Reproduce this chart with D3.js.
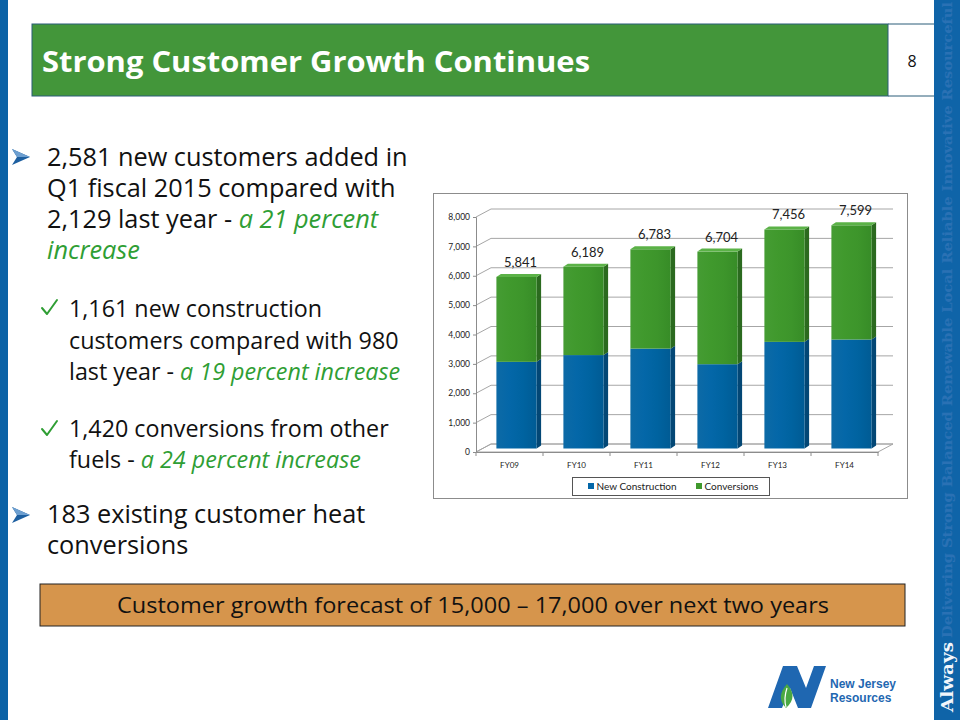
<!DOCTYPE html>
<html lang="en">
<head>
<meta charset="UTF-8">
<script src="https://d3js.org/d3.v7.min.js"></script>
<title>Strong Customer Growth Continues</title>
<style>
  body { margin: 0; background: #fff; }
  svg { display: block; }
</style>
</head>
<body>
<script>
// chart data
const categories = ["FY09", "FY10", "FY11", "FY12", "FY13", "FY14"];
const newConstruction = [2950, 3180, 3400, 2870, 3630, 3710];
const conversions = [2891, 3009, 3383, 3834, 3826, 3889];
const totals = [5841, 6189, 6783, 6704, 7456, 7599];
const yTicks = [0, 1000, 2000, 3000, 4000, 5000, 6000, 7000, 8000];
const seriesNames = ["New Construction", "Conversions"];

const bodyFont = "'Open Sans', Lato, sans-serif";
const chartFont = "Lato, 'Open Sans', sans-serif";
const green = "#2f9e34";

const svg = d3.select("body").append("svg")
    .attr("width", 960)
    .attr("height", 720);

const defs = svg.append("defs");

// ---- slide frame ----
svg.append("rect").attr("x", 0).attr("y", 0).attr("width", 8).attr("height", 720).attr("fill", "#0b62a6");
svg.append("rect").attr("x", 934).attr("y", 0).attr("width", 26).attr("height", 720).attr("fill", "#0f64a8");

const fade = defs.append("linearGradient").attr("id", "fade")
    .attr("gradientUnits", "userSpaceOnUse")
    .attr("x1", 0).attr("y1", 720).attr("x2", 0).attr("y2", 0);
fade.append("stop").attr("offset", "0%").attr("stop-color", "#cddbeb");
fade.append("stop").attr("offset", "50%").attr("stop-color", "#93b2d4");
fade.append("stop").attr("offset", "100%").attr("stop-color", "#2a71b4");

svg.append("text")
    .attr("transform", "translate(953,712) rotate(-90)")
    .attr("font-family", "'DejaVu Serif', serif").attr("font-weight", "bold")
    .attr("font-size", 17).attr("fill", "#f2f6fb")
    .attr("textLength", 70).attr("lengthAdjust", "spacingAndGlyphs")
    .text("Always");
svg.append("text")
    .attr("transform", "translate(952,638) rotate(-90)")
    .attr("font-family", "'DejaVu Serif', serif").attr("font-weight", "bold")
    .attr("font-size", 13).attr("fill", "url(#fade)")
    .attr("textLength", 636).attr("lengthAdjust", "spacingAndGlyphs")
    .text("Delivering Strong Balanced Renewable Local Reliable Innovative Resourceful");

// title bar
svg.append("rect").attr("x", 32).attr("y", 24).attr("width", 856).attr("height", 72)
    .attr("fill", "#43963a").attr("stroke", "#2b5d78").attr("stroke-width", 1);
svg.append("line").attr("x1", 888).attr("x2", 934).attr("y1", 24).attr("y2", 24).attr("stroke", "#2b5d78");
svg.append("line").attr("x1", 888).attr("x2", 934).attr("y1", 96).attr("y2", 96).attr("stroke", "#2b5d78");
svg.append("text").attr("x", 42).attr("y", 72)
    .attr("font-family", bodyFont).attr("font-weight", "bold").attr("font-size", 29)
    .attr("textLength", 548).attr("lengthAdjust", "spacingAndGlyphs")
    .attr("fill", "#fff").text("Strong Customer Growth Continues");
svg.append("text").attr("x", 912).attr("y", 67).attr("text-anchor", "middle")
    .attr("font-family", bodyFont).attr("font-size", 16).attr("fill", "#111").text("8");

// ---- bullet text: one text element per paragraph, one tspan row per line ----
const paragraphs = [
  { x: 47, y: 166, size: 25.3, lead: 31, rows: [
      [["2,581 new customers added in"]],
      [["Q1 fiscal 2015 compared with"]],
      [["2,129 last year - "], ["a 21 percent", true]],
      [["increase", true]] ] },
  { x: 69, y: 317, size: 23.3, lead: 31.5, rows: [
      [["1,161 new construction"]],
      [["customers compared with 980"]],
      [["last year - "], ["a 19 percent increase", true]] ] },
  { x: 69, y: 437, size: 23.3, lead: 31, rows: [
      [["1,420 conversions from other"]],
      [["fuels - "], ["a 24 percent increase", true]] ] },
  { x: 47, y: 523, size: 25.3, lead: 31, rows: [
      [["183 existing customer heat"]],
      [["conversions"]] ] }
];

paragraphs.forEach(p => {
  const t = svg.append("text").attr("x", p.x).attr("y", p.y)
      .attr("font-family", bodyFont).attr("font-size", p.size).attr("fill", "#111");
  p.rows.forEach((row, r) => {
    row.forEach((part, k) => {
      const ts = t.append("tspan")
          .attr("fill", part[1] ? green : "#111")
          .attr("font-style", part[1] ? "italic" : "normal")
          .text(part[0]);
      if (k === 0) ts.attr("x", p.x).attr("y", p.y + r * p.lead);
    });
  });
});

// arrow bullets
function arrowBullet(cx, cy) {
  const g = svg.append("g").attr("transform", `translate(${cx},${cy})`);
  g.append("path").attr("d", "M-9,-8 L9,0 L-9,8 L-4,0 Z").attr("fill", "#1d5fa0");
  g.append("path").attr("d", "M-9,-8 L9,0 L-4,0 Z").attr("fill", "#6d9fd0");
}
arrowBullet(21, 157);
arrowBullet(21, 515);

// check bullets
[315, 436].forEach(y => {
  svg.append("path")
      .attr("d", `M42,${y - 7} L47,${y - 1} L57,${y - 15}`)
      .attr("fill", "none").attr("stroke", green).attr("stroke-width", 2)
      .attr("stroke-linecap", "round").attr("stroke-linejoin", "round");
});

// forecast box
svg.append("rect").attr("x", 40).attr("y", 584).attr("width", 865).attr("height", 42)
    .attr("fill", "#d6954c").attr("stroke", "#222").attr("stroke-width", 1);
svg.append("text").attr("x", 117).attr("y", 613)
    .attr("font-family", bodyFont).attr("font-size", 21).attr("fill", "#111")
    .attr("textLength", 712).attr("lengthAdjust", "spacingAndGlyphs")
    .text("Customer growth forecast of 15,000 \u2013 17,000  over next two years");

// logo
const logo = svg.append("g").attr("transform", "translate(768,666)");
logo.append("path").attr("d", "M0,42 L15,0 L29,0 L38,22 L46,0 L58,0 L43,42 L30,42 L22,22 L14,42 Z")
    .attr("fill", "#1f67b1");
logo.append("path").attr("d", "M18,42 C10,34 12,26 19,18 C26,26 27,34 18,42 Z").attr("fill", "#4aa843");
logo.append("path").attr("d", "M18,41 C16,34 17,28 19,22").attr("stroke", "#fff").attr("stroke-width", 1.2).attr("fill", "none");
logo.append("text").attr("x", 62).attr("y", 22).attr("font-family", "'Liberation Sans', Arial, sans-serif")
    .attr("font-weight", "bold").attr("font-size", 12).attr("fill", "#1f67b1").text("New Jersey");
logo.append("text").attr("x", 62).attr("y", 36).attr("font-family", "'Liberation Sans', Arial, sans-serif")
    .attr("font-weight", "bold").attr("font-size", 12).attr("fill", "#1f67b1").text("Resources");

// ---- chart ----
svg.append("rect").attr("x", 433.5).attr("y", 193.5).attr("width", 474).attr("height", 305)
    .attr("fill", "#fff").attr("stroke", "#8c8c8c").attr("stroke-width", 1);

const x0 = 476, x1 = 878, yBase = 452, yTop = 217;
const dx = 15, dy = -8;

const x = d3.scaleBand().domain(categories).range([x0, x1]).paddingInner(0.4).paddingOuter(0.2);
const y = d3.scaleLinear().domain([0, 8000]).range([yBase, yTop]);

const grid = svg.append("g").attr("stroke", "#a6a6a6").attr("stroke-width", 1).attr("fill", "none");
// floor
grid.append("path")
    .attr("d", `M${x0},${yBase} L${x1},${yBase} L${x1 + dx},${yBase + dy} L${x0 + dx},${yBase + dy} Z`)
    .attr("fill", "#fff");
yTicks.forEach(t => {
  grid.append("line")
      .attr("x1", x0 + dx).attr("x2", x1 + dx)
      .attr("y1", y(t) + dy).attr("y2", y(t) + dy);
  grid.append("line")
      .attr("x1", x0).attr("x2", x0 + dx)
      .attr("y1", y(t)).attr("y2", y(t) + dy);
});

// axes
const yAxis = svg.append("g").attr("transform", `translate(${x0},0)`)
    .call(d3.axisLeft(y).tickValues(yTicks).tickFormat(d3.format(",")).tickSize(3).tickPadding(3));
const xAxis = svg.append("g").attr("transform", `translate(0,${yBase})`)
    .call(d3.axisBottom(x).tickSize(0).tickPadding(10));
[yAxis, xAxis].forEach(a => {
  a.select(".domain").attr("stroke", "#8c8c8c");
  a.selectAll("line").attr("stroke", "#8c8c8c");
  a.selectAll("text").attr("font-family", chartFont).attr("fill", "#222");
});
yAxis.selectAll("text").attr("font-size", 8.5);
xAxis.selectAll("text").attr("font-size", 8);
// category boundary ticks
d3.range(categories.length + 1).forEach(i => {
  const tx = x0 + i * (x1 - x0) / categories.length;
  svg.append("line").attr("x1", tx).attr("x2", tx).attr("y1", yBase).attr("y2", yBase + 4)
      .attr("stroke", "#8c8c8c");
});

// gradients for the bar faces
function faceGradient(id, stops) {
  const g = defs.append("linearGradient").attr("id", id).attr("x1", 0).attr("x2", 1).attr("y1", 0).attr("y2", 0);
  stops.forEach((c, i) => g.append("stop").attr("offset", (i / (stops.length - 1) * 100) + "%").attr("stop-color", c));
}
faceGradient("blueFace", ["#0d6aa6", "#0467a8", "#0063a0", "#005b94"]);
faceGradient("greenFace", ["#459c33", "#40992d", "#3d952b", "#378c27"]);

const styles = [
  { face: "url(#blueFace)", side: "#034775", top: "#1a7cbc" },
  { face: "url(#greenFace)", side: "#2b6a1f", top: "#5bb247" }
];

// bar geometry: front face shifted into the middle of the depth
const fx = 7, fy = -3.5, bdx = 4.5, bdy = -3;
const stacked = categories.map((c, i) => [
  { cat: c, s: 0, lo: 0, hi: newConstruction[i] },
  { cat: c, s: 1, lo: newConstruction[i], hi: newConstruction[i] + conversions[i] }
]).flat();

const bars = svg.append("g");
stacked.forEach(d => {
  const left = x(d.cat) + fx, w = x.bandwidth();
  const yh = y(d.hi) + fy, yl = y(d.lo) + fy;
  const st = styles[d.s];
  bars.append("path")
      .attr("d", `M${left + w},${yl} L${left + w + bdx},${yl + bdy} L${left + w + bdx},${yh + bdy} L${left + w},${yh} Z`)
      .attr("fill", st.side);
  bars.append("rect").attr("x", left).attr("y", yh).attr("width", w).attr("height", yl - yh)
      .attr("fill", st.face);
  if (d.s === 1) {
    bars.append("path")
        .attr("d", `M${left},${yh} L${left + bdx},${yh + bdy} L${left + w + bdx},${yh + bdy} L${left + w},${yh} Z`)
        .attr("fill", st.top);
  }
});

// total labels
svg.append("g").selectAll("text").data(categories).join("text")
    .attr("x", (d, i) => x(d) + fx + x.bandwidth() / 2 + 4)
    .attr("y", (d, i) => y(totals[i]) + fy - 10)
    .attr("text-anchor", "middle")
    .attr("font-family", chartFont).attr("font-size", 13).attr("fill", "#222")
    .text((d, i) => d3.format(",")(totals[i]));

// legend
const legend = svg.append("g");
legend.append("rect").attr("x", 572.5).attr("y", 477.5).attr("width", 197).attr("height", 18)
    .attr("fill", "#fff").attr("stroke", "#555");
const legendX = [588, 696];
seriesNames.forEach((n, i) => {
  legend.append("rect").attr("x", legendX[i]).attr("y", 483).attr("width", 6).attr("height", 6)
      .attr("fill", i === 0 ? "#0467a8" : "#40992d");
  legend.append("text").attr("x", legendX[i] + 8.5).attr("y", 490)
      .attr("font-family", chartFont).attr("font-size", 10).attr("fill", "#222").text(n);
});
</script>
</body>
</html>
